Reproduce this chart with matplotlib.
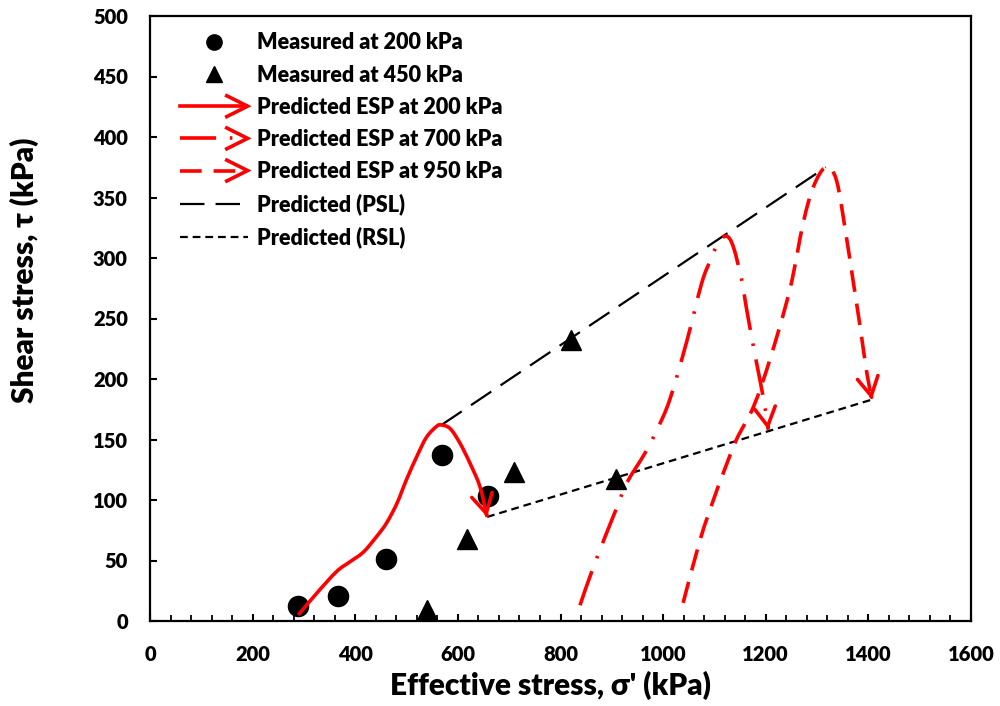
import matplotlib
matplotlib.use("Agg")
import matplotlib.pyplot as plt
from matplotlib.lines import Line2D
from matplotlib.patches import PathPatch
from matplotlib.path import Path
from matplotlib.legend_handler import HandlerBase

WEIGHT = "heavy"
plt.rcParams["font.family"] = ["Lato", "DejaVu Sans"]
plt.rcParams["font.weight"] = WEIGHT

# Measured points
meas200_x = [289, 367, 460, 570, 658]
meas200_y = [12, 21, 51, 137, 103]
meas450_x = [539, 617, 710, 820, 908]
meas450_y = [9, 68, 123, 232, 117]

# Predicted effective stress paths
esp200_x = [289, 325, 364, 390, 416, 442, 461, 481, 500, 520, 539, 559, 568,
            585, 604, 624, 643, 657]
esp200_y = [5, 23, 41, 49, 57, 70, 81, 97, 117, 136, 152, 161, 162,
            159, 147, 130, 111, 86]
esp700_x = [838, 867, 910, 929, 965, 988, 1013, 1046, 1075, 1092, 1108, 1124,
            1137, 1153, 1163, 1179, 1196, 1205]
esp700_y = [13, 48, 94, 114, 139, 158, 183, 231, 279, 298, 313, 318,
            309, 282, 257, 220, 183, 158]
esp950_x = [1039, 1072, 1098, 1117, 1143, 1176, 1208, 1247, 1273, 1293, 1317,
            1338, 1358, 1371, 1384, 1397, 1407]
esp950_y = [15, 67, 100, 122, 150, 177, 216, 274, 329, 359, 375,
            364, 315, 279, 243, 205, 183]

# Peak and residual strength lines
psl_x = [568, 1317]
psl_y = [162, 375]
rsl_x = [657, 1407]
rsl_y = [86, 183]

xticks = [0, 200, 400, 600, 800, 1000, 1200, 1400, 1600]
yticks = [0, 50, 100, 150, 200, 250, 300, 350, 400, 450, 500]

RED = "#ff0000"
ESP_LW = 2.6
DASHDOT = (0, (10.0, 3.8, 0.7, 3.8))
DASHED = (0, (6.0, 3.3))
PSL_DASH = (0, (11, 5))
RSL_DASH = (0, (3.5, 2.2))


def smooth_path(xs, ys):
    """Smoothed (Catmull-Rom style Bezier) path through the given points."""
    pts = list(zip(xs, ys))
    n = len(pts)
    verts = [pts[0]]
    codes = [Path.MOVETO]
    for i in range(n - 1):
        p0 = pts[i - 1] if i > 0 else pts[i]
        p1 = pts[i]
        p2 = pts[i + 1]
        p3 = pts[i + 2] if i + 2 < n else pts[i + 1]
        c1 = (p1[0] + (p2[0] - p0[0]) / 6.0, p1[1] + (p2[1] - p0[1]) / 6.0)
        c2 = (p2[0] - (p3[0] - p1[0]) / 6.0, p2[1] - (p3[1] - p1[1]) / 6.0)
        verts += [c1, c2, p2]
        codes += [Path.CURVE4] * 3
    return Path(verts, codes)


class ArrowLineHandler(HandlerBase):
    """Legend entry: a line ending in an open chevron head."""

    def create_artists(self, legend, orig_handle, xdescent, ydescent,
                       width, height, fontsize, trans):
        y = height / 2.0 - ydescent
        x0 = -xdescent
        x1 = -xdescent + width
        line = Line2D([x0, x1 - 1.0], [y, y])
        line.update_from(orig_handle)
        line.set_transform(trans)
        hl, hw = 15.0, 7.5
        chev = Line2D([x1 - hl, x1, x1 - hl], [y + hw, y, y - hw],
                      color=orig_handle.get_color(),
                      lw=orig_handle.get_linewidth(), linestyle="-",
                      solid_joinstyle="miter", transform=trans)
        return [line, chev]


fig = plt.figure(figsize=(10, 7.06), dpi=100)
ax = fig.add_axes([0.150, 1 - 621 / 706, 0.821, 605 / 706])

ax.plot(meas200_x, meas200_y, "o", color="black", ms=14.5, zorder=2)
ax.plot(meas450_x, meas450_y, "^", color="black", ms=15, zorder=2)

esp_series = [(esp200_x, esp200_y, "-"), (esp700_x, esp700_y, DASHDOT),
              (esp950_x, esp950_y, DASHED)]
for xs, ys, ls in esp_series:
    ax.add_patch(PathPatch(smooth_path(xs, ys), fill=False, edgecolor=RED,
                           lw=ESP_LW, ls=ls, capstyle="butt",
                           joinstyle="round", zorder=4))
    # open arrow head at the end of each stress path
    ex, ey = xs[-1], ys[-1]
    px, py = xs[-2], ys[-2]
    sx = ex - 0.1 * (ex - px)
    sy = ey - 0.1 * (ey - py)
    ax.annotate("", xy=(ex, ey), xytext=(sx, sy), zorder=5,
                arrowprops=dict(arrowstyle="->,head_length=1.35,head_width=0.75",
                                color=RED, lw=ESP_LW, shrinkA=0, shrinkB=0,
                                mutation_scale=10))

ax.plot(psl_x, psl_y, color="black", lw=1.6, ls=PSL_DASH, zorder=3)
ax.plot(rsl_x, rsl_y, color="black", lw=1.6, ls=RSL_DASH, zorder=3)

ax.set_xlim(0, 1600)
ax.set_ylim(0, 500)
ax.set_xticks(xticks)
ax.set_yticks(yticks)
ax.set_xticks(range(0, 1601, 40), minor=True)
ax.tick_params(axis="both", which="major", direction="in", length=5, width=1.5,
               labelsize=14.5)
ax.tick_params(axis="x", which="minor", direction="in", length=4, width=1.3)
ax.tick_params(axis="x", which="major", pad=17)
ax.tick_params(axis="y", which="major", pad=16)
for lab in ax.get_xticklabels() + ax.get_yticklabels():
    lab.set_fontweight(WEIGHT)
for side in ax.spines.values():
    side.set_linewidth(1.6)

ax.set_xlabel("Effective stress, σ' (kPa)", fontsize=21.5, fontweight=WEIGHT)
ax.set_ylabel("Shear stress, τ (kPa)", fontsize=21.5, fontweight=WEIGHT)
ax.xaxis.set_label_coords(0.488, -0.107)
ax.xaxis.label.set_va("center")
ax.yaxis.set_label_coords(-0.1535, 0.580)
ax.yaxis.label.set_va("center")

# legend proxies drawn with the same styles as the plotted series
h_m200 = Line2D([], [], ls="none", marker="o", color="black", ms=11)
h_m450 = Line2D([], [], ls="none", marker="^", color="black", ms=11.5)
h_e200 = Line2D([], [], color=RED, lw=ESP_LW, ls="-")
h_e700 = Line2D([], [], color=RED, lw=ESP_LW, ls=DASHDOT)
h_e950 = Line2D([], [], color=RED, lw=ESP_LW, ls=DASHED)
h_psl = Line2D([], [], color="black", lw=1.6, ls=PSL_DASH)
h_rsl = Line2D([], [], color="black", lw=1.6, ls=RSL_DASH)
labels = ["Measured at 200 kPa", "Measured at 450 kPa",
          "Predicted ESP at 200 kPa", "Predicted ESP at 700 kPa",
          "Predicted ESP at 950 kPa", "Predicted (PSL)", "Predicted (RSL)"]
arrow_handler = ArrowLineHandler()
ax.legend([h_m200, h_m450, h_e200, h_e700, h_e950, h_psl, h_rsl], labels,
          loc="upper left", bbox_to_anchor=(0.036, 0.973),
          frameon=False, handlelength=3.16, handletextpad=0.42,
          labelspacing=0.52, borderpad=0, borderaxespad=0,
          prop={"weight": WEIGHT, "size": 15.5},
          handler_map={h_e200: arrow_handler, h_e700: arrow_handler,
                       h_e950: arrow_handler})

fig.savefig("out.png", dpi=100)
